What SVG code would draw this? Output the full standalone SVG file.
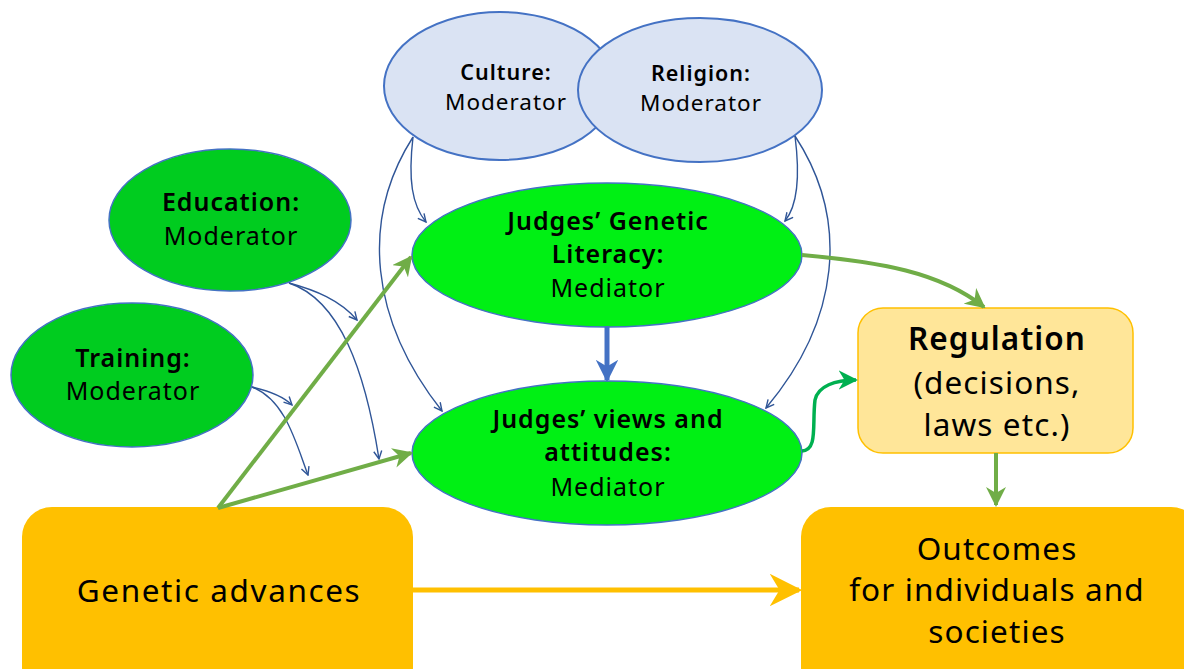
<svg xmlns="http://www.w3.org/2000/svg" width="1184" height="669" viewBox="0 0 1184 669">
<style>
.t{font-family:"Noto Sans","Open Sans",sans-serif;fill:#000;text-anchor:middle;font-variant-ligatures:none}
.b{font-weight:600}
.s{font-size:22.5px;letter-spacing:1px}
.m{font-size:25px;letter-spacing:1px}
.l{font-size:31.5px;letter-spacing:1.1px}
.mod{fill:#DAE3F3;stroke:#4472C4;stroke-width:2}
.gm{fill:#00CC1F;stroke:#4472C4;stroke-width:1.5}
.gj{fill:#00F014;stroke:#4472C4;stroke-width:1.5}
.thin{fill:none;stroke:#2F5597;stroke-width:1.4;marker-end:url(#v)}
.gr{fill:none;stroke:#70AD47;stroke-width:4}
</style>
<defs>
<marker id="v" viewBox="0 0 10 10" refX="9" refY="5" markerWidth="10" markerHeight="10" markerUnits="userSpaceOnUse" orient="auto">
<path d="M1,1 L9,5 L1,9" fill="none" stroke="#2F5597" stroke-width="1.4"/>
</marker>
<marker id="ga" viewBox="0 0 10 10" refX="9" refY="5" markerWidth="5" markerHeight="5" orient="auto">
<path d="M0,0 L10,5 L0,10 L3,5 Z" fill="#70AD47"/>
</marker>
<marker id="gd" viewBox="0 0 10 10" refX="9" refY="5" markerWidth="5.5" markerHeight="5.5" orient="auto">
<path d="M0,0 L10,5 L0,10 L3,5 Z" fill="#00B050"/>
</marker>
<marker id="ba" viewBox="0 0 10 10" refX="9" refY="5" markerWidth="4.5" markerHeight="4.5" orient="auto">
<path d="M0,0 L10,5 L0,10 L3,5 Z" fill="#4472C4"/>
</marker>
<marker id="oa" viewBox="0 0 10 10" refX="9" refY="5" markerWidth="6.5" markerHeight="6.5" orient="auto">
<path d="M0,0 L10,5 L0,10 L3,5 Z" fill="#FFC000"/>
</marker>
</defs>

<g id="culture">
<ellipse class="mod" cx="500" cy="86" rx="116" ry="74"/>
<text class="t b s" x="506" y="80" style="font-size:21.5px">Culture:</text>
<text class="t s" x="506" y="110">Moderator</text>
</g>
<g id="religion">
<ellipse class="mod" cx="700" cy="90" rx="122" ry="72"/>
<text class="t b s" x="701" y="81" style="font-size:21.5px">Religion:</text>
<text class="t s" x="701" y="111">Moderator</text>
</g>
<g id="education">
<ellipse class="gm" cx="230" cy="220" rx="121" ry="71"/>
<text class="t b m" x="231" y="211">Education:</text>
<text class="t m" x="231" y="245">Moderator</text>
</g>
<g id="training">
<ellipse class="gm" cx="132" cy="375" rx="121" ry="72"/>
<text class="t b m" x="133" y="367">Training:</text>
<text class="t m" x="133" y="400">Moderator</text>
</g>
<g id="literacy">
<ellipse class="gj" cx="607" cy="255" rx="195" ry="72"/>
<text class="t b m" x="608" y="230">Judges’ Genetic</text>
<text class="t b m" x="608" y="263">Literacy:</text>
<text class="t m" x="608" y="297">Mediator</text>
</g>
<g id="views">
<ellipse class="gj" cx="607" cy="453" rx="195" ry="72"/>
<text class="t b m" x="608" y="428">Judges’ views and</text>
<text class="t b m" x="608" y="461">attitudes:</text>
<text class="t m" x="608" y="496">Mediator</text>
</g>
<g id="regulation">
<rect x="858" y="308" width="275" height="145" rx="25" fill="#FFE699" stroke="#FFC000" stroke-width="1.5"/>
<text class="t b l" x="997" y="350">Regulation</text>
<text class="t l" x="997" y="394">(decisions,</text>
<text class="t l" x="997" y="436">laws etc.)</text>
</g>
<g id="outcomes">
<rect x="801" y="507" width="400" height="190" rx="30" fill="#FFC000"/>
<text class="t l" x="997" y="560">Outcomes</text>
<text class="t l" x="997" y="601">for individuals and</text>
<text class="t l" x="997" y="643">societies</text>
</g>
<g id="genetic">
<rect x="22" y="507" width="391" height="190" rx="30" fill="#FFC000"/>
<text class="t l" x="219" y="602" style="letter-spacing:1.6px">Genetic advances</text>
</g>

<g id="connectors">
<path class="thin" d="M413,137 C408,180 412,205 426,222"/>
<path class="thin" d="M413,137 C360,220 370,320 442,411"/>
<path class="thin" d="M795,136 C800,175 798,205 785,221"/>
<path class="thin" d="M795,136 C850,220 840,320 766,408"/>
<path class="thin" d="M289,283 C315,290 340,300 357,320"/>
<path class="thin" d="M289,283 C340,300 365,370 379,459"/>
<path class="thin" d="M252,387 C265,390 282,395 292,405"/>
<path class="thin" d="M252,387 C285,400 295,440 308,475"/>
<path class="gr" d="M218,508 L411,257" marker-end="url(#ga)"/>
<path class="gr" d="M218,508 L411,453" marker-end="url(#ga)"/>
<path class="gr" d="M802,255 C880,262 940,272 984,307" marker-end="url(#ga)"/>
<path d="M802,451 C818,450 812,425 815,400 C818,386 835,380 856,380" fill="none" stroke="#00B050" stroke-width="3.5" marker-end="url(#gd)"/>
<path class="gr" d="M996,453 L996,505" stroke-width="3.5" marker-end="url(#ga)"/>
<path d="M607,326 L607,380" fill="none" stroke="#4472C4" stroke-width="5" marker-end="url(#ba)"/>
<path d="M413,590 L799,590" fill="none" stroke="#FFC000" stroke-width="5" marker-end="url(#oa)"/>
</g>
</svg>
